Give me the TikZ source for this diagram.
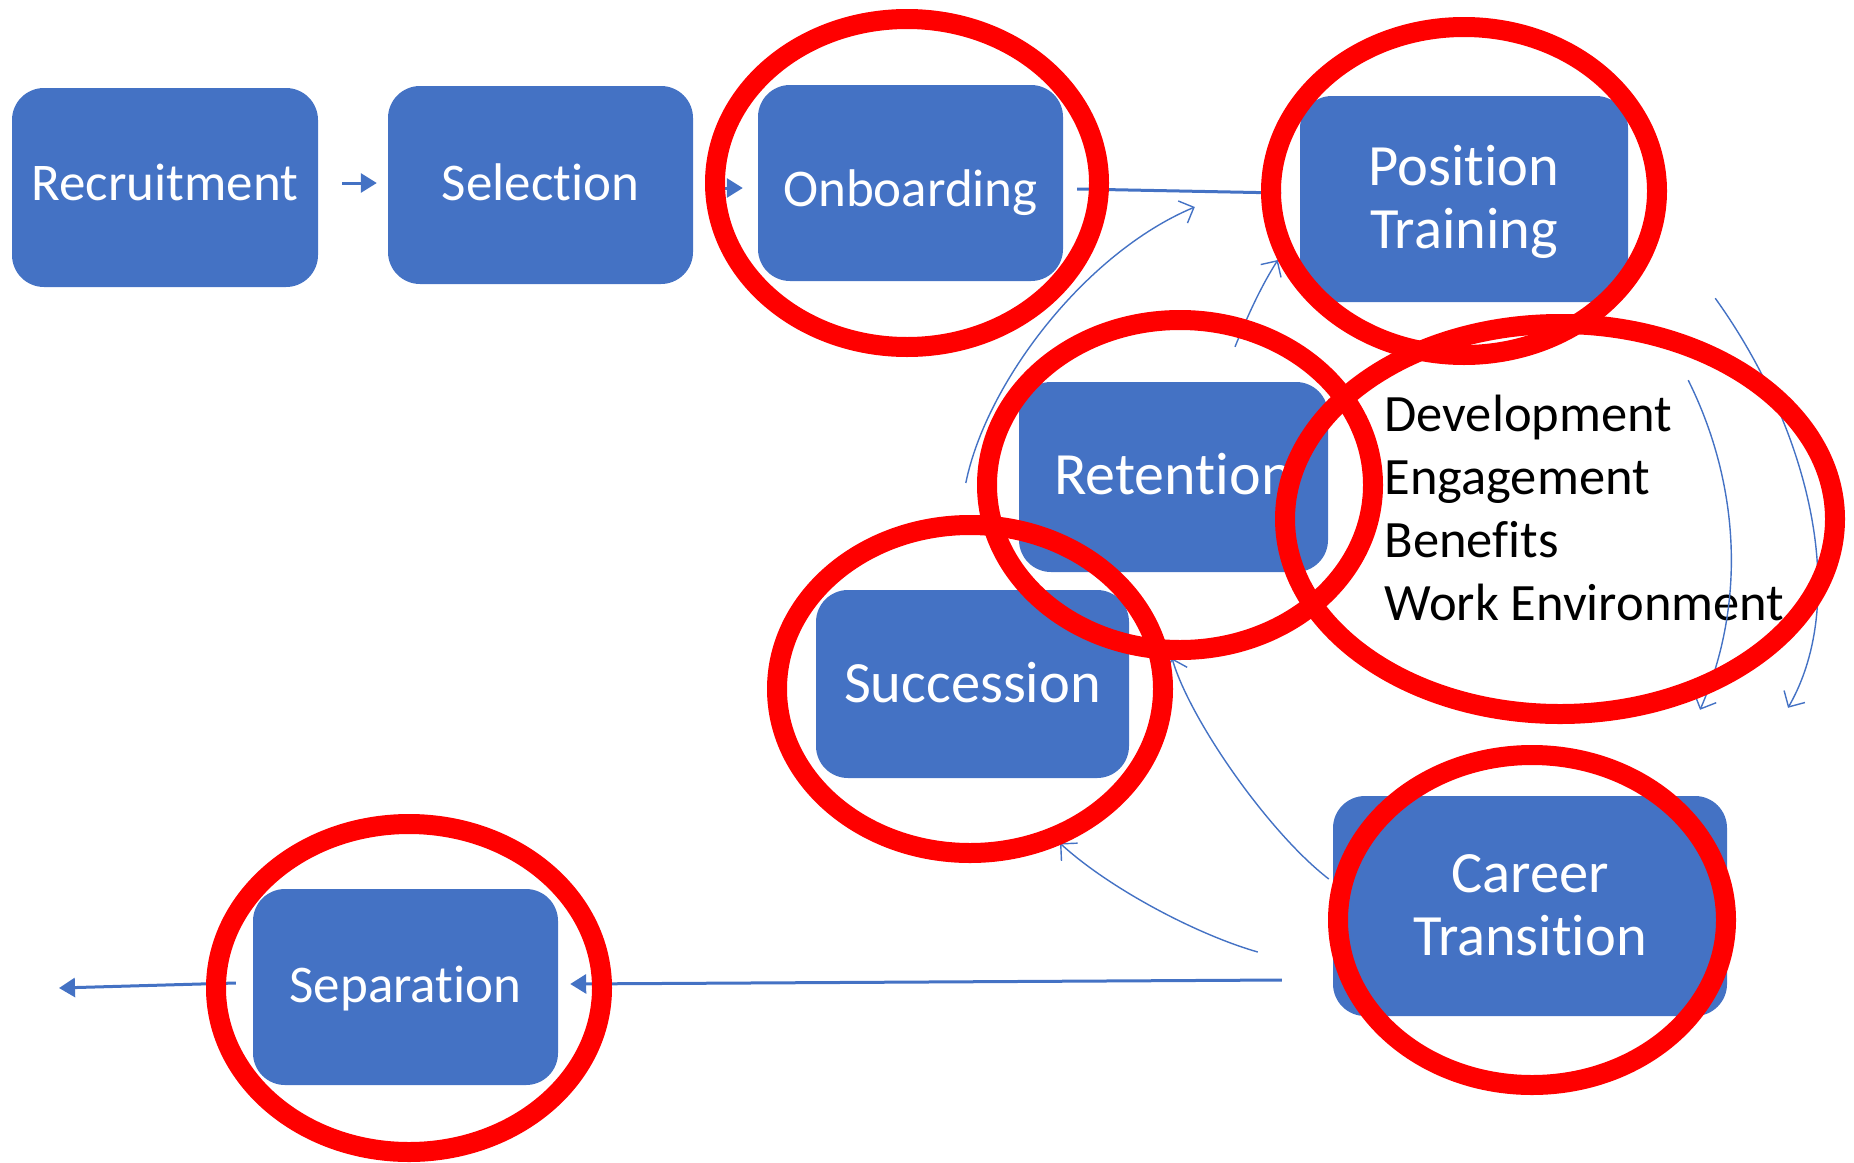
\documentclass[tikz,border=0pt]{standalone}
\usepackage{fontspec}
\setmainfont{Carlito}[Ligatures=NoCommon]
\usepackage{xcolor}
\usetikzlibrary{arrows.meta,calc}

\definecolor{stageblue}{HTML}{4472C4}
\definecolor{ringred}{HTML}{FF0000}

\begin{document}
\begin{tikzpicture}[x=1pt, y=-1pt,
    stage/.style={fill=stageblue, rounded corners=32pt, text=white, align=center,
                  font=\fontsize{53}{63}\selectfont,
                  execute at begin node=\strut, execute at end node=\strut},
    bigstage/.style={stage, font=\fontsize{58.5}{63}\selectfont},
    drop/.style={execute at begin node={\rule{0pt}{#1}}}, % pushes the text down a bit
    flow/.style={stageblue, line width=3pt, -{Triangle[length=16pt, width=19pt]}},
    loop/.style={stageblue, line width=1.4pt, -{Straight Barb[length=12pt, width=24pt]}},
    ring/.style={ringred, line width=20pt}]
  \useasboundingbox (0,0) rectangle (1854,1162);

  % stages of the lifecycle
  \node[stage, minimum width=306pt, minimum height=199pt] (recruitment) at (165,187.5) {Recruitment};
  \node[stage, drop=49pt, minimum width=305pt, minimum height=198pt] (selection) at (540.5,185) {Selection};
  \node[stage, drop=65pt, minimum width=305pt, minimum height=196pt] (onboarding) at (910.5,183) {Onboarding};
  \node[bigstage, drop=117pt, minimum width=328pt, minimum height=206pt] (position) at (1464,199) {Position\\Training};
  \node[bigstage, drop=53.5pt, font=\fontsize{60}{63}\selectfont, minimum width=309pt, minimum height=190pt] (retention) at (1173.5,477) {Retention};
  \node[bigstage, drop=56pt, minimum width=313pt, minimum height=188pt] (succession) at (972.5,684) {Succession};
  \node[bigstage, drop=118pt, minimum width=394pt, minimum height=220pt] (career) at (1530,906) {Career\\Transition};
  \node[stage, drop=49pt, minimum width=305pt, minimum height=196pt] (separation) at (405.5,987) {Separation};

  % what retention is made of
  \node[anchor=west, align=left, font=\fontsize{52.5}{63}\selectfont] (factors) at (1381,508)
    {Development\\Engagement\\Benefits\\Work Environment};

  \coordinate (exit) at (59,988);

  % straight flow
  \draw[flow] ($(recruitment.east)+(24,-4.5)$) -- ($(selection.west)+(-11,-2)$);
  \draw[flow] ($(selection.east)+(27,3)$) -- ($(onboarding.west)+(-15,5)$);
  \draw[flow, -{Triangle[length=10pt, width=12pt]}] ($(onboarding.east)+(14,6)$) -- ($(position.west)+(-18,-6)$);
  \draw[flow] ($(career.west)+(-51,74)$) -- ($(separation.east)+(12,-3)$);
  \draw[flow] ($(separation.west)+(-17,-4)$) -- (exit);

  % loops back and around
  \draw[loop] ($(retention.west)+(-53,6)$) .. controls (986,383) and (1085,253) .. ($(position.west)+(-105,8)$);
  \draw[loop] ($(retention.north)+(61.5,-35)$) .. controls (1250,310) and (1262,285) .. ($(position.west)+(-22,61)$);
  \draw[loop] ($(position.south east)+(60,78)$) .. controls (1738,480) and (1748,600) .. ($(career.north)+(170,-86)$);
  \draw[loop] ($(position.south east)+(87,-4)$) .. controls (1810,430) and (1850,600) .. ($(career.north)+(258,-88)$);
  \draw[loop] ($(career.west)+(-4,-27)$) .. controls (1269,833) and (1190,720) .. ($(retention.south)+(-1.5,86)$);
  \draw[loop] ($(career.west)+(-75,46)$) .. controls (1198,935) and (1110,889) .. ($(succession.south)+(87.5,65)$);

  % red rings on top
  \draw[ring] (907,183) ellipse [x radius=192, y radius=164];
  \draw[ring] (1464,191) ellipse [x radius=193, y radius=164];
  \draw[ring] (1180,485) ellipse [x radius=193, y radius=165];
  \draw[ring] (1560,519) ellipse [x radius=275, y radius=195];
  \draw[ring] (970,689) ellipse [x radius=193, y radius=164];
  \draw[ring] (1532,920) ellipse [x radius=194, y radius=165];
  \draw[ring] (409,988) ellipse [x radius=193, y radius=164];
\end{tikzpicture}
\end{document}
